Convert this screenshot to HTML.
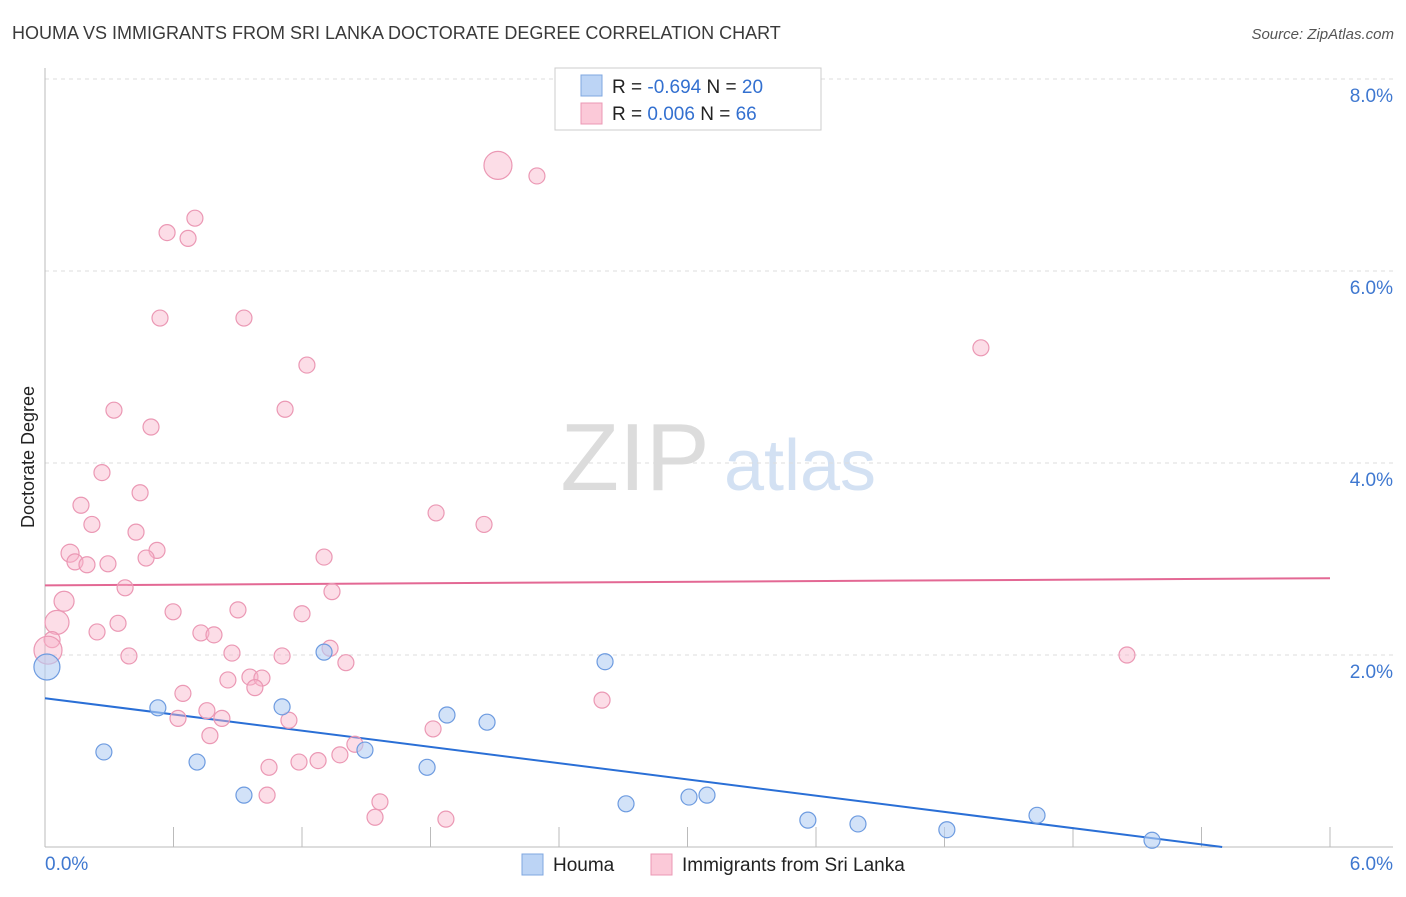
<!DOCTYPE html>
<html><head><meta charset="utf-8">
<style>
body{margin:0;background:#fff;font-family:"Liberation Sans",sans-serif;}
svg text{font-family:"Liberation Sans",sans-serif;}
</style></head>
<body>
<svg id="chart" width="1406" height="892" xmlns="http://www.w3.org/2000/svg">
<text x="12" y="39" font-size="18" fill="#3a3a3a">HOUMA VS IMMIGRANTS FROM SRI LANKA DOCTORATE DEGREE CORRELATION CHART</text>
<text x="1394" y="39" font-size="15" fill="#555" text-anchor="end" font-style="italic">Source: ZipAtlas.com</text>
<text transform="translate(34,457) rotate(-90)" font-size="18" fill="#222" text-anchor="middle">Doctorate Degree</text>
<g>
<text x="635" y="490" font-size="96" fill="#dcdcdc" font-family="Liberation Serif" text-anchor="middle">ZIP</text>
<text x="800" y="490" font-size="72" fill="#d3e1f3" text-anchor="middle">atlas</text>
</g>
<g id="grid"></g>
<g id="axes"></g>
<g id="lines"></g>
<g id="pts"></g>
<g>
<rect x="555" y="68" width="266" height="62" fill="#fff" stroke="#ccc"/>
<rect x="581" y="75" width="21" height="21" fill="#bcd4f5" stroke="#7fa7e0"/>
<rect x="581" y="103" width="21" height="21" fill="#fbc9d8" stroke="#eb98b4"/>
<text x="612" y="93" font-size="19" fill="#222">R = <tspan fill="#3370d0">-0.694</tspan>   N = <tspan fill="#3370d0">20</tspan></text>
<text x="612" y="120" font-size="19" fill="#222">R = <tspan fill="#3370d0"> 0.006</tspan>   N = <tspan fill="#3370d0">66</tspan></text>
</g>
<g>
<rect x="522" y="854" width="21" height="21" fill="#bcd4f5" stroke="#7fa7e0"/>
<text x="553" y="871" font-size="19" fill="#222">Houma</text>
<rect x="651" y="854" width="21" height="21" fill="#fbc9d8" stroke="#eb98b4"/>
<text x="682" y="871" font-size="19" fill="#222">Immigrants from Sri Lanka</text>
</g>
</svg>
<script>
const xTicks=[0,0.6,1.2,1.8,2.4,3.0,3.6,4.2,4.8,5.4,6.0];
const yTicks=[2,4,6,8];
const yTickLabels=["2.0%","4.0%","6.0%","8.0%"];
const xEndLabels=["0.0%","6.0%"];
const houmaX=[0.009,0.275,0.527,0.710,0.929,1.107,1.303,1.494,1.784,1.877,2.064,2.615,2.713,3.007,3.091,3.562,3.796,4.211,4.632,5.169];
const houmaY=[1.875,0.99,1.45,0.885,0.54,1.46,2.03,1.01,0.83,1.375,1.30,1.93,0.45,0.52,0.54,0.28,0.24,0.18,0.33,0.07];
const sriX=[2.115,2.297,0.700,0.570,0.668,0.537,0.929,1.223,4.370,0.322,1.121,0.495,0.266,0.444,0.168,1.826,0.219,2.050,0.425,0.117,0.523,0.472,1.303,0.140,0.196,0.294,0.374,1.340,0.089,0.598,0.901,1.200,0.056,0.341,0.243,0.728,0.789,0.033,1.331,0.392,0.873,1.107,5.052,1.405,0.957,1.013,0.854,0.980,0.644,2.601,0.756,0.621,0.826,1.139,0.770,1.812,1.447,1.377,1.186,1.275,1.046,1.037,1.564,1.541,1.872,0.014];
const sriY=[7.10,6.99,6.55,6.40,6.34,5.51,5.51,5.02,5.20,4.55,4.56,4.375,3.90,3.69,3.56,3.48,3.36,3.36,3.28,3.06,3.09,3.01,3.02,2.97,2.94,2.95,2.70,2.66,2.56,2.45,2.47,2.43,2.34,2.33,2.24,2.23,2.21,2.16,2.07,1.99,2.02,1.99,2.00,1.92,1.77,1.76,1.74,1.66,1.60,1.53,1.42,1.34,1.34,1.32,1.16,1.23,1.07,0.96,0.885,0.90,0.83,0.54,0.47,0.31,0.29,2.05];
const houmaTrend=[1.55,-0.282];
const sriTrend=[2.725,0.0125];
const NS="http://www.w3.org/2000/svg";
const X=v=>45+v/6*1285, Y=v=>847-v*96;
function mk(tag,attrs,parent){const e=document.createElementNS(NS,tag);for(const k in attrs)e.setAttribute(k,attrs[k]);document.getElementById(parent).appendChild(e);return e;}
yTicks.forEach((t,i)=>{
 const g=mk('line',{x1:45,x2:1393,y1:Y(t),y2:Y(t),stroke:'#ddd','stroke-dasharray':'4,4'},'grid');
 
 
 const l=mk('text',{x:1393,y:Y(t)+23,'font-size':19,fill:'#3f78d0','text-anchor':'end'},'grid');
 l.textContent=yTickLabels[i];
 
 
});
const ax=mk('line',{x1:45,x2:1393,y1:847,y2:847,stroke:'#bbb'},'axes');


const ay=mk('line',{x1:45,x2:45,y1:68,y2:847,stroke:'#bbb'},'axes');


xTicks.forEach(t=>{
 const k=mk('line',{x1:X(t),x2:X(t),y1:827,y2:847,stroke:'#bbb'},'axes');
 
 
});
[[0,'start',45],[6,'end',1393]].forEach((a,i)=>{
 const l=mk('text',{x:a[2],y:870,'font-size':19,fill:'#3f78d0','text-anchor':a[1]},'axes');
 l.textContent=xEndLabels[i];
 
 
});
const xEndH=(0-houmaTrend[0])/houmaTrend[1];
const lh=mk('line',{x1:X(0),y1:Y(houmaTrend[0]),x2:X(Math.min(6,xEndH)),y2:Y(houmaTrend[0]+houmaTrend[1]*Math.min(6,xEndH)),stroke:'#2a6fd6','stroke-width':2},'lines');


const ls=mk('line',{x1:X(0),y1:Y(sriTrend[0]),x2:X(6),y2:Y(sriTrend[0]+sriTrend[1]*6),stroke:'#e36894','stroke-width':2},'lines');


const bigS={0:14,32:12,65:14,28:10,19:9};
sriX.forEach((x,i)=>{
 const c=mk('circle',{cx:X(x),cy:Y(sriY[i]),r:bigS[i]||8,fill:'rgba(248,180,202,0.45)',stroke:'#eb98b4','stroke-width':1.2},'pts');
 
 
});
houmaX.forEach((x,i)=>{
 const c=mk('circle',{cx:X(x),cy:Y(houmaY[i]),r:i===0?13:8,fill:'rgba(180,206,244,0.6)',stroke:'#6d9be0','stroke-width':1.2},'pts');
 
 
});
</script>
</body></html>
